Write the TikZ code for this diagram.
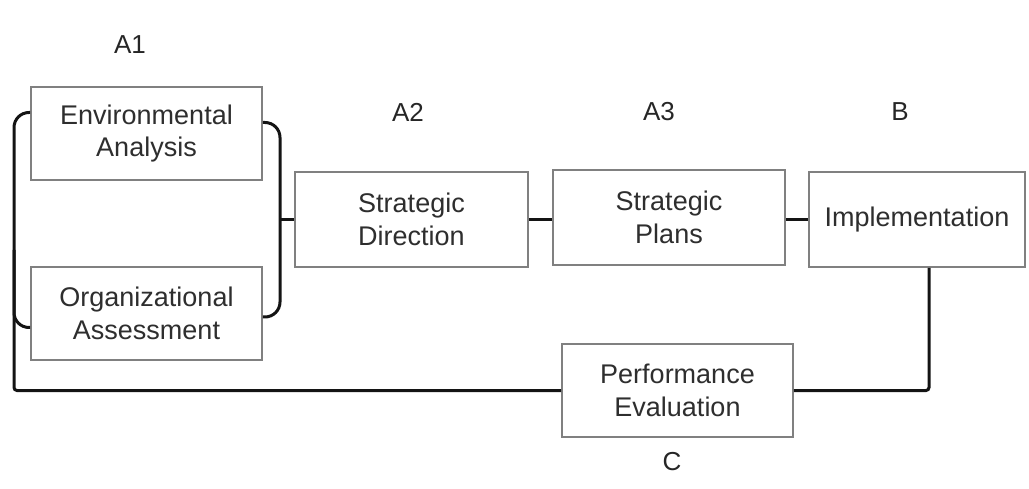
\documentclass[tikz,border=0pt]{standalone}
\usepackage{fontspec}
\setmainfont{Liberation Sans}
\begin{document}
\begin{tikzpicture}[x=1pt,y=-1pt,
  box/.style={draw=black!50, line width=1.6pt, fill=white, align=center, inner sep=0pt,
    text=black!82, font=\fontsize{27}{32.5}\selectfont},
  lbl/.style={text=black!85, font=\fontsize{26}{30}\selectfont, inner sep=0pt},
  conn/.style={draw=black!92, line width=3pt}]
\useasboundingbox (0,0) rectangle (1029,489);
\node[box, minimum width=231pt, minimum height=93pt] (EA) at (146.5,133.5) {Environmental\\Analysis};
\node[box, minimum width=231pt, minimum height=93pt] (OA) at (146.5,313.5) {Organizational\\Assessment};
\node[box, minimum width=233pt, minimum height=95pt] (SD) at (411.5,219.5) {Strategic\\Direction};
\node[box, minimum width=232pt, minimum height=95pt] (SP) at (669,217.5) {Strategic\\Plans};
\node[box, minimum width=216pt, minimum height=95pt] (IM) at (917,219.5) {Implementation};
\node[box, minimum width=231pt, minimum height=93pt] (PE) at (677.5,390.5) {Performance\\Evaluation};
\node[lbl] (A1) at (130,45) {A1};
\node[lbl] (A2) at (408,112) {A2};
\node[lbl] (A3) at (659,112) {A3};
\node[lbl] (B) at (900,112) {B};
\node[lbl] (C) at (672,462) {C};
\coordinate (lb) at (14,250);
\coordinate (rb) at (280,219.5);
\draw[conn, rounded corners=15] ([yshift=21pt]EA.west) -| (lb) [rounded corners=3] |- (PE.west);
\draw[conn, rounded corners=15] ([yshift=-14pt]OA.west) -| (lb);
\draw[conn, rounded corners=15] ([yshift=11pt]EA.east) -| (rb) |- ([yshift=-3.5pt]OA.east);
\draw[conn] (rb) -- (SD.west);
\draw[conn] (SD.east) -- (SD.east -| SP.west);
\draw[conn] (SP.east |- IM.west) -- (IM.west);
\draw[conn, rounded corners=3] ([xshift=12pt]IM.south) |- (PE.east);
\end{tikzpicture}
\end{document}
